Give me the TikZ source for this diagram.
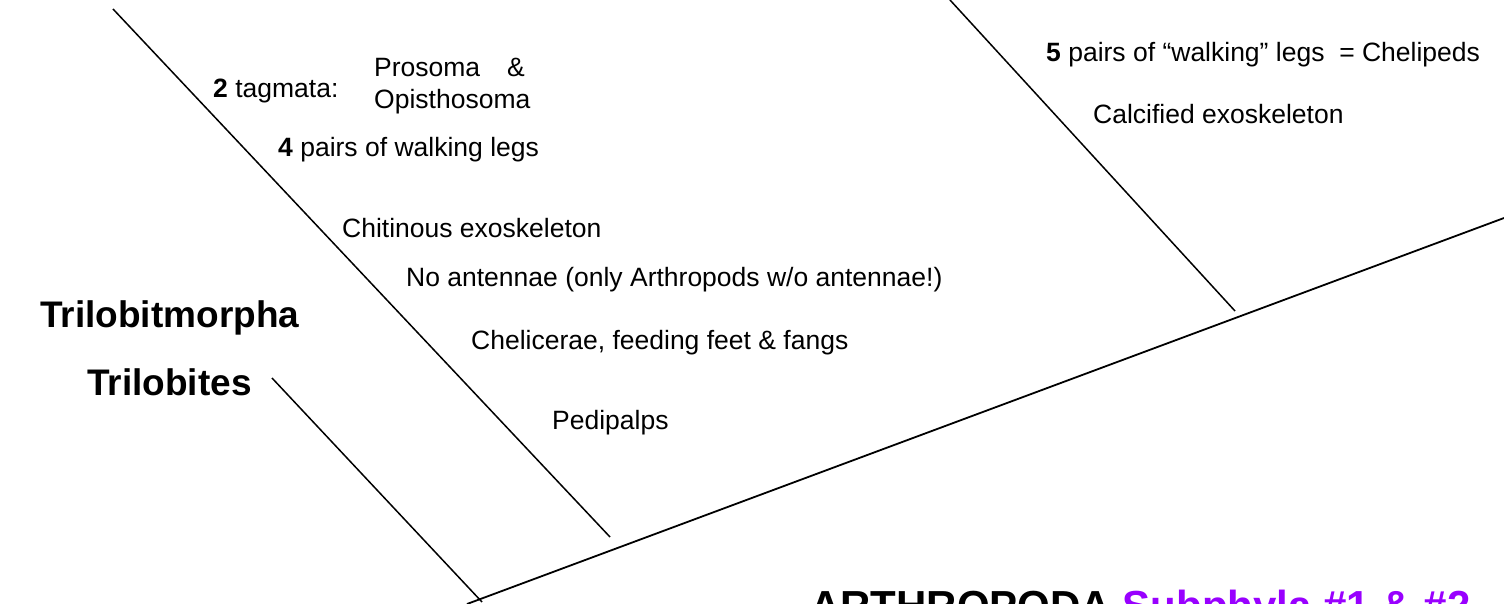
\documentclass[tikz,border=0pt]{standalone}
\usepackage{fontspec}
\setmainfont{Liberation Sans}
\definecolor{purp}{HTML}{9900FF}
\begin{document}
\begin{tikzpicture}[x=1pt,y=-1pt,
  lbl/.style={anchor=base west,inner sep=0pt,font=\fontsize{26.5}{30}\selectfont},
  bigl/.style={anchor=base west,inner sep=0pt,font=\fontsize{37}{40}\selectfont\bfseries},
  ttl/.style={anchor=base west,inner sep=0pt,font=\fontsize{42}{46}\selectfont\bfseries},
  branch/.style={draw=black,line width=1.5pt},
  trunk/.style={draw=black,line width=1.8pt}]
\useasboundingbox[fill=white] (0,0) rectangle (1504,604);
% line end points
\coordinate (rootS) at (467,604);
\coordinate (rootE) at (1504,218);
\coordinate (triT) at (272,378);
\coordinate (triB) at (482,602);
\coordinate (cheT) at (113,9);
\coordinate (cheB) at (610,537);
\coordinate (crT) at (950,0);
\coordinate (crB) at (1235,311);
\draw[trunk] (rootS) -- (rootE);
\draw[branch] (triT) -- (triB);
\draw[branch] (cheT) -- (cheB);
\draw[branch] (crT) -- (crB);
% labels
\node[lbl] (tag) at (213,98) {\textbf{2} tagmata:};
\node[lbl] (pro) at (374,77) {Prosoma\hspace{27pt}\&};
\node[lbl] (opi) at (374,109) {Opisthosoma};
\node[lbl] (leg4) at (278,157) {\textbf{4} pairs of walking legs};
\node[lbl] (chi) at (342,237) {Chitinous exoskeleton};
\node[lbl] (noa) at (406,286) {No antennae (only Arthropods w/o antennae!)};
\node[lbl] (chl) at (471,349) {Chelicerae, feeding feet \& fangs};
\node[lbl] (ped) at (552,429) {Pedipalps};
\node[bigl] (tmo) at (40,327) {Trilobitmorpha};
\node[bigl] (tri) at (87,395) {Trilobites};
\node[lbl] (leg5) at (1046,62) {\textbf{5} pairs of “walking” legs\ \ = Chelipeds};
\node[lbl] (cal) at (1093,124) {Calcified exoskeleton};
\node[ttl] (title) at (810,620) {ARTHROPODA \textcolor{purp}{Subphyla \#1 \& \#2}};
\end{tikzpicture}
\end{document}
